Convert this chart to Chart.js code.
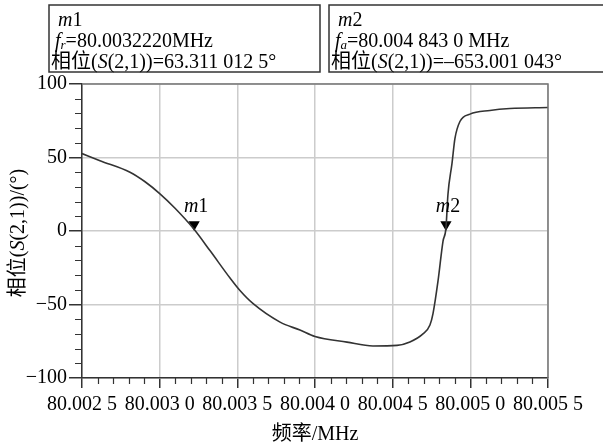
<!DOCTYPE html>
<html>
<head>
<meta charset="utf-8">
<script src="https://cdn.jsdelivr.net/npm/chart.js@4/dist/chart.umd.min.js"></script>
<style>
  html, body { margin: 0; padding: 0; background: #fff; }
</style>
</head>
<body>
<canvas id="phaseChart" width="603" height="446"></canvas>
<script>
// Phase of S(2,1) versus frequency (MHz)
const freqs = [
  80.002500, 80.002616, 80.002809, 80.002906, 80.003002, 80.003099, 80.003215,
  80.003325, 80.003453, 80.003517, 80.003600, 80.003775, 80.003903, 80.004000,
  80.004206, 80.004373, 80.004528, 80.004611, 80.004695, 80.004740, 80.004760,
  80.004792, 80.004824, 80.004843, 80.004856, 80.004882, 80.004901, 80.004933,
  80.004998, 80.005126, 80.005255, 80.005500
];
const phase = [
  52.7, 47.8, 40.0, 33.5, 25.3, 15.5, 2.0,
  -13.5, -32.0, -40.5, -49.3, -62.0, -67.4, -71.8,
  -75.6, -78.2, -77.8, -75.5, -70.0, -64.0, -56.0,
  -34.0, -7.0, 2.0, 25.0, 46.0, 63.0, 74.5,
  79.5, 82.0, 83.3, 84.0
];

// Markers
const markerNames = ['m1', 'm2'];
const markerFreqs = [80.003222, 80.004843];
const markerPhase = [4.5, 4.5];

// Axis ticks
const xTicks = [80.0025, 80.0030, 80.0035, 80.0040, 80.0045, 80.0050, 80.0055];
const xTickLabels = ['80.002 5', '80.003 0', '80.003 5', '80.004 0', '80.004 5', '80.005 0', '80.005 5'];
const yTicks = [-100, -50, 0, 50, 100];
const yTickLabels = ['\u2212100', '\u221250', '0', '50', '100'];

const FONT = '"Liberation Serif", "Noto Sans CJK SC", serif';

// draw a line of text made of plain / italic / subscript pieces
function richText(ctx, parts, x, y) {
  for (const [t, style] of parts) {
    let size = 20, dy = 0, it = style === 'i';
    if (style === 'sub') { it = true; size = 13; dy = 2; }
    ctx.font = (it ? 'italic ' : '') + size + 'px ' + FONT;
    ctx.fillText(t, x, y + dy);
    x += ctx.measureText(t).width;
  }
  return x;
}
function richWidth(ctx, parts) {
  let w = 0;
  for (const [t, style] of parts) {
    const it = style === 'i' || style === 'sub';
    const size = style === 'sub' ? 13 : 20;
    ctx.font = (it ? 'italic ' : '') + size + 'px ' + FONT;
    w += ctx.measureText(t).width;
  }
  return w;
}

const markerBoxes = [
  { left: 49, right: 320, lines: [
    [['m', 'i'], ['1', '']],
    [['f', 'i'], ['r', 'sub'], ['=80.0032220MHz', '']],
    [['\u76f8\u4f4d(', ''], ['S', 'i'], ['(2,1))=63.311 012 5\u00b0', '']]
  ]},
  { left: 329, right: 612, lines: [
    [['m', 'i'], ['2', '']],
    [['f', 'i'], ['a', 'sub'], ['=80.004 843 0 MHz', '']],
    [['\u76f8\u4f4d(', ''], ['S', 'i'], ['(2,1))=\u2013653.001 043\u00b0', '']]
  ]}
];

const decor = {
  id: 'decor',
  afterDraw(chart) {
    const { ctx, chartArea: a, scales: { x, y } } = chart;
    ctx.save();
    ctx.fillStyle = '#000';
    ctx.textBaseline = 'alphabetic';

    // frame top/right
    ctx.strokeStyle = '#777';
    ctx.lineWidth = 1.5;
    ctx.beginPath();
    ctx.moveTo(a.left, a.top); ctx.lineTo(a.right, a.top); ctx.lineTo(a.right, a.bottom);
    ctx.stroke();

    // minor ticks
    ctx.strokeStyle = '#333';
    ctx.lineWidth = 1.2;
    ctx.beginPath();
    for (let i = 0; i < yTicks.length - 1; i++) {
      for (let k = 1; k < 5; k++) {
        const py = Math.round(y.getPixelForValue(yTicks[i] + (yTicks[i + 1] - yTicks[i]) * k / 5)) + 0.5;
        ctx.moveTo(a.left - 7, py); ctx.lineTo(a.left, py);
      }
    }
    for (let i = 0; i < xTicks.length - 1; i++) {
      for (let k = 1; k < 5; k++) {
        const px = Math.round(x.getPixelForValue(xTicks[i] + (xTicks[i + 1] - xTicks[i]) * k / 5)) + 0.5;
        ctx.moveTo(px, a.bottom); ctx.lineTo(px, a.bottom + 6);
      }
    }
    ctx.stroke();

    // marker labels
    markerNames.forEach((n, i) => {
      const px = x.getPixelForValue(markerFreqs[i]);
      const py = y.getPixelForValue(markerPhase[i]);
      const parts = [['m', 'i'], [n.slice(1), '']];
      const w = richWidth(ctx, parts);
      richText(ctx, parts, px - w / 2 + 2, py - 12);
    });

    // marker info boxes
    ctx.strokeStyle = '#333';
    ctx.lineWidth = 1.5;
    markerBoxes.forEach(b => {
      ctx.strokeRect(b.left, 5, b.right - b.left, 67);
      richText(ctx, b.lines[0], b.left + 9, 26);
      richText(ctx, b.lines[1], b.left + 6, 47);
      richText(ctx, b.lines[2], b.left + 2, 68);
    });

    // axis titles
    const xt = [['\u9891\u7387/MHz', '']];
    richText(ctx, xt, 315 - richWidth(ctx, xt) / 2, 440);
    const yt = [['\u76f8\u4f4d(', ''], ['S', 'i'], ['(2,1))/(\u00b0)', '']];
    ctx.translate(24, 233);
    ctx.rotate(-Math.PI / 2);
    richText(ctx, yt, -richWidth(ctx, yt) / 2, 0);
    ctx.restore();
  }
};

const ctx = document.getElementById('phaseChart').getContext('2d');
new Chart(ctx, {
  type: 'scatter',
  data: {
    datasets: [
      {
        data: freqs.map((f, i) => ({ x: f, y: phase[i] })),
        showLine: true,
        borderColor: '#333',
        borderWidth: 1.6,
        pointRadius: 0,
        cubicInterpolationMode: 'monotone'
      },
      {
        data: markerFreqs.map((f, i) => ({ x: f, y: markerPhase[i] })),
        pointStyle: 'triangle',
        rotation: 180,
        pointRadius: 6.5,
        backgroundColor: '#000',
        borderColor: '#000',
        borderWidth: 0
      }
    ]
  },
  options: {
    responsive: false,
    animation: false,
    devicePixelRatio: 1,
    layout: { padding: { top: 84, right: 55, left: 0, bottom: 0 } },
    plugins: { legend: { display: false }, tooltip: { enabled: false } },
    scales: {
      x: {
        type: 'linear',
        min: 80.0025,
        max: 80.0055,
        afterBuildTicks: s => { s.ticks = xTicks.map(v => ({ value: v })); },
        afterFit: s => { s.height = 68; },
        grid: { color: '#ccc', lineWidth: 1.5, tickLength: 10, tickColor: '#333' },
        border: { color: '#333', width: 1.5 },
        ticks: {
          padding: 5,
          color: '#000',
          maxRotation: 0,
          font: { family: FONT, size: 20 },
          callback: (v, i) => xTickLabels[i]
        }
      },
      y: {
        min: -100,
        max: 100,
        afterBuildTicks: s => { s.ticks = yTicks.map(v => ({ value: v })); },
        afterFit: s => { s.width = 82; },
        grid: { color: '#ccc', lineWidth: 1.5, tickLength: 13, tickColor: '#333' },
        border: { color: '#333', width: 1.5 },
        ticks: {
          padding: 2,
          color: '#000',
          font: { family: FONT, size: 20 },
          callback: (v, i) => yTickLabels[i]
        }
      }
    }
  },
  plugins: [decor]
});
</script>
</body>
</html>
